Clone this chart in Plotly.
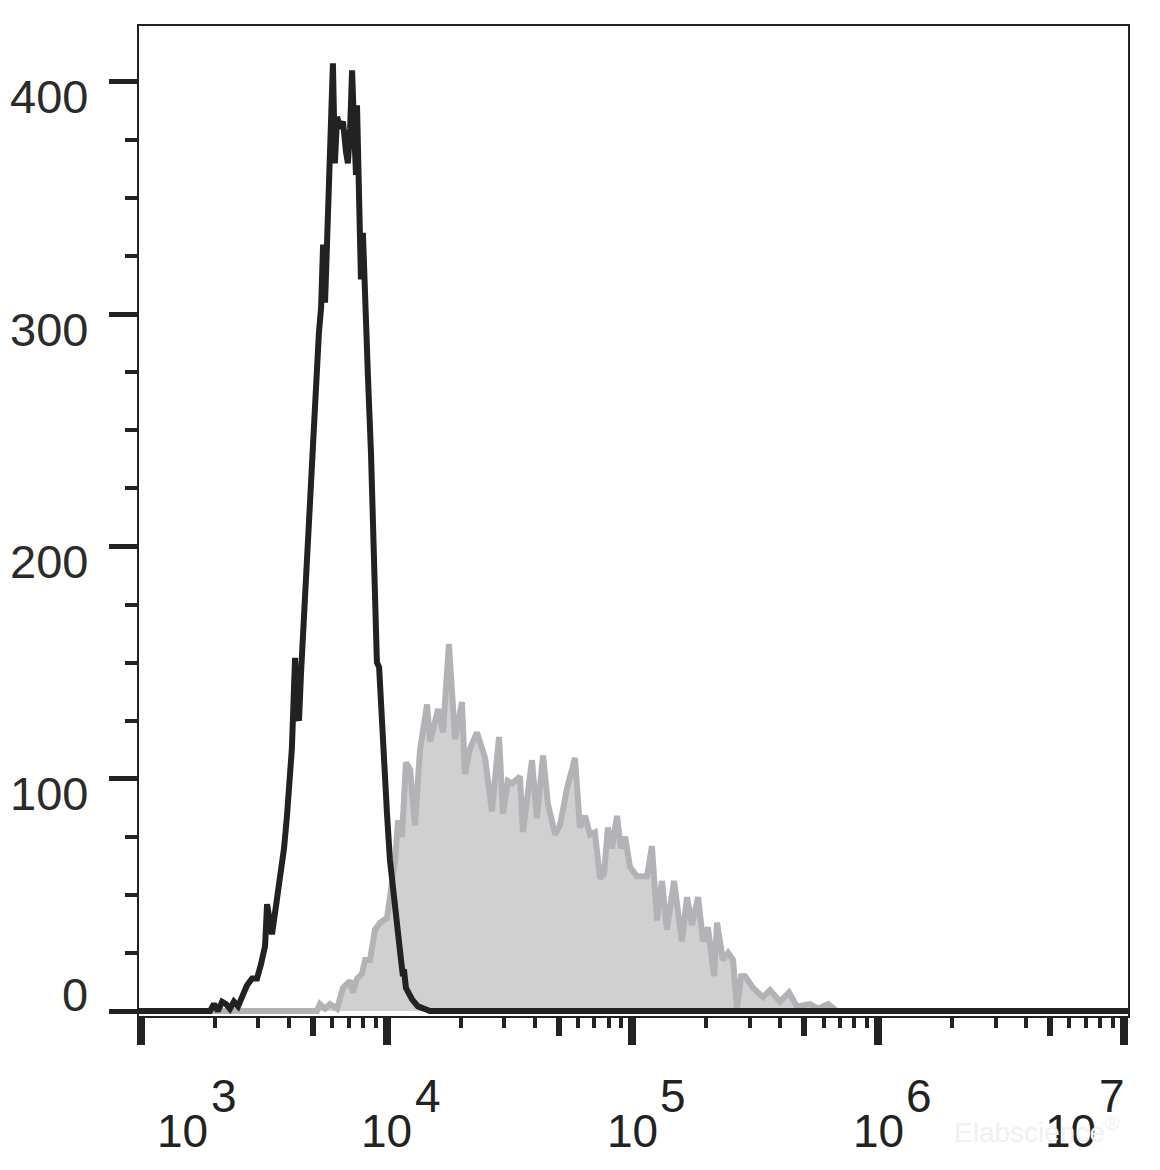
import plotly.graph_objects as go

# ---- data: log10(fluorescence intensity) and event counts ----
black_log = [2.99, 3.281, 3.297, 3.313, 3.330, 3.346, 3.362, 3.378, 3.395, 3.411, 3.431, 3.452,
             3.472, 3.488, 3.505, 3.513, 3.525, 3.533, 3.549, 3.566, 3.582, 3.594, 3.606, 3.614,
             3.623, 3.627, 3.635, 3.643, 3.651, 3.663, 3.676, 3.688, 3.700, 3.712, 3.724, 3.733,
             3.741, 3.749, 3.757, 3.765, 3.773, 3.781, 3.789, 3.798, 3.810, 3.822, 3.834, 3.842,
             3.851, 3.859, 3.867, 3.875, 3.879, 3.887, 3.895, 3.903, 3.912, 3.924, 3.936, 3.944,
             3.952, 3.960, 3.969, 3.977, 3.989, 4.001, 4.013, 4.025, 4.038, 4.050, 4.058, 4.066,
             4.070, 4.078, 4.087, 4.103, 4.127, 4.152, 4.176, 7.02]
black_count = [0, 0, 3, 0, 4, 3, 1, 4, 2, 6, 11, 14,
               14, 20, 28, 46, 36, 33, 45, 56, 70, 84, 98, 113,
               140, 152, 128, 125, 145, 170, 200, 228, 250, 270, 292, 303,
               330, 305, 330, 362, 385, 408, 365, 385, 380, 383, 370, 365,
               380, 405, 380, 360, 390, 338, 315, 335, 303, 272, 240, 205,
               160, 150, 148, 130, 105, 85, 65, 52, 40, 28, 22, 15,
               18, 10, 8, 5, 2, 1, 0, 0]

grey_log = [2.99, 3.716, 3.728, 3.749, 3.769, 3.798, 3.822, 3.851, 3.863, 3.879, 3.899, 3.912,
            3.932, 3.952, 3.973, 4.001, 4.013, 4.034, 4.046, 4.062, 4.078, 4.095, 4.115, 4.135,
            4.148, 4.164, 4.176, 4.209, 4.229, 4.253, 4.278, 4.306, 4.318, 4.339, 4.367, 4.400,
            4.428, 4.457, 4.473, 4.493, 4.510, 4.522, 4.542, 4.554, 4.591, 4.611, 4.636, 4.656,
            4.685, 4.705, 4.734, 4.766, 4.786, 4.807, 4.827, 4.847, 4.868, 4.884, 4.900, 4.917,
            4.937, 4.953, 4.970, 4.990, 5.018, 5.059, 5.079, 5.100, 5.120, 5.140, 5.169, 5.201,
            5.222, 5.242, 5.267, 5.287, 5.307, 5.332, 5.344, 5.368, 5.389, 5.409, 5.425, 5.442,
            5.458, 5.490, 5.531, 5.560, 5.600, 5.637, 5.669, 5.722, 5.755, 5.796, 5.832, 7.02]
grey_count = [0, 0, 3, 1, 3, 1, 10, 13, 8, 14, 16, 22,
              22, 35, 38, 40, 49, 65, 82, 75, 107, 104, 80, 112,
              121, 132, 116, 130, 120, 158, 117, 133, 102, 113, 120, 109,
              86, 118, 85, 99, 98, 99, 101, 77, 108, 83, 110, 89,
              76, 80, 96, 109, 79, 84, 76, 77, 57, 59, 79, 70,
              84, 70, 75, 62, 58, 58, 71, 39, 56, 35, 56, 30,
              49, 37, 49, 30, 36, 15, 38, 22, 25, 22, 1, 15,
              15, 10, 6, 9, 4, 8, 2, 3, 1, 3, 0, 0]

y_tick_vals = [0, 100, 200, 300, 400]
y_tick_text = ["0", "100", "200", "300", "400"]
x_decades = [3, 4, 5, 6, 7]
x_exp_text = ["3", "4", "5", "6", "7"]

# ---- derived tick positions ----
major_x = [10 ** d for d in x_decades]
mid_x = [5 * 10 ** d for d in x_decades[:-1]]
minor_x = [m * 10 ** d for d in x_decades[:-1] for m in (2, 3, 4, 6, 7, 8, 9)]

XR = [2.9919, 7.0163]
YR = [-2.15, 424.1]
INK = "#222222"
FONT = "Liberation Sans, Arial, sans-serif"

fig = go.Figure()
fig.add_trace(go.Scatter(
    x=[10 ** v for v in grey_log], y=grey_count, mode="lines",
    line=dict(color="#b3b3b7", width=6), fill="tozeroy", fillcolor="#d0d0d0",
    hoverinfo="skip", showlegend=False, xaxis="x", yaxis="y"))
fig.add_trace(go.Scatter(
    x=[10 ** v for v in black_log], y=black_count, mode="lines",
    line=dict(color=INK, width=6), hoverinfo="skip", showlegend=False,
    xaxis="x2", yaxis="y"))

annotations = []
label_shift = {3: 42, 7: -53}
for d, e in zip(x_decades, x_exp_text):
    s = label_shift.get(d, 0)
    annotations.append(dict(text="10", x=d, xref="x", y=0, yref="paper",
                            xanchor="center", yanchor="middle", xshift=s, yshift=-115,
                            showarrow=False, font=dict(family=FONT, size=46, color=INK)))
    annotations.append(dict(text=e, x=d, xref="x", y=0, yref="paper",
                            xanchor="left", yanchor="middle", xshift=s + 26, yshift=-80,
                            showarrow=False, font=dict(family=FONT, size=46, color=INK)))
for v, t in zip(y_tick_vals, y_tick_text):
    annotations.append(dict(text=t, x=0, xref="paper", y=v, yref="y",
                            xanchor="right", yanchor="middle", xshift=-49,
                            yshift=(17 if v == 0 else -15),
                            showarrow=False, font=dict(family=FONT, size=47, color="#2b2b2b")))
annotations.append(dict(text="Elabscience<sup>®</sup>", x=1, xref="paper", y=0, yref="paper",
                        xanchor="right", yanchor="middle", xshift=-6, yshift=-114,
                        showarrow=False, font=dict(family=FONT, size=28, color="#f0f0f0")))

fig.update_layout(
    width=1144, height=1154,
    margin=dict(l=131, r=24, t=18, b=146),
    plot_bgcolor="white", paper_bgcolor="white",
    showlegend=False,
    annotations=annotations,
    xaxis=dict(type="log", range=XR, showline=True, linecolor=INK, linewidth=2, mirror=True,
               showgrid=False, zeroline=False, showticklabels=False,
               tickmode="array", tickvals=major_x, ticks="outside", ticklen=27, tickwidth=8,
               tickcolor=INK,
               minor=dict(tickmode="array", tickvals=minor_x, ticks="outside", ticklen=10,
                          tickwidth=4, tickcolor=INK, showgrid=False)),
    xaxis2=dict(type="log", range=XR, overlaying="x", anchor="y", side="bottom",
                showline=False, showgrid=False, zeroline=False, showticklabels=False,
                tickmode="array", tickvals=mid_x, ticks="outside", ticklen=19, tickwidth=6,
                tickcolor=INK),
    yaxis=dict(range=YR, showline=True, linecolor=INK, linewidth=2, mirror=True,
               showgrid=False, zeroline=False, showticklabels=False,
               tickmode="array", tickvals=y_tick_vals, ticks="outside", ticklen=28, tickwidth=5,
               tickcolor=INK,
               minor=dict(dtick=25, tick0=0, ticks="outside", ticklen=12, tickwidth=3.5,
                          tickcolor=INK, showgrid=False)),
)

fig.write_html("out.html")
